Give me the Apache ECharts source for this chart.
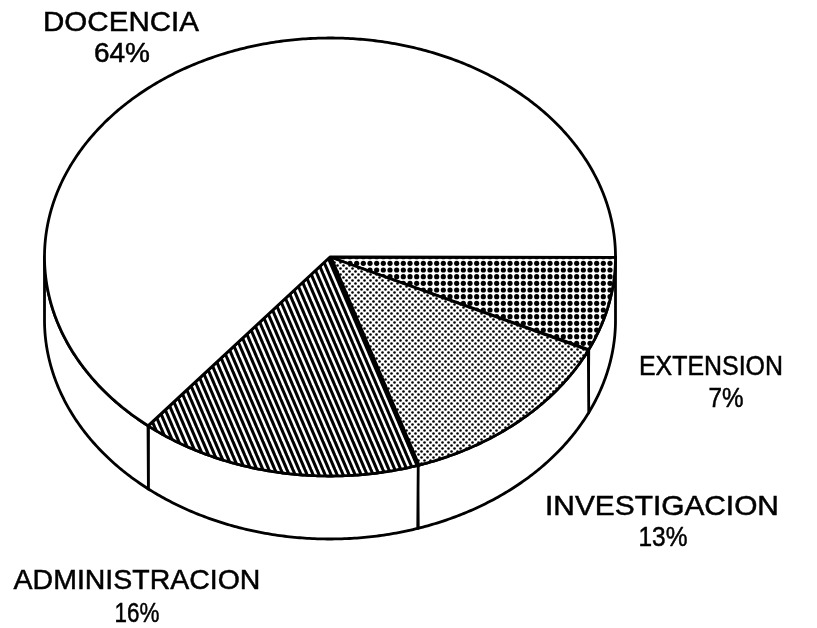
<!DOCTYPE html>
<html>
<head>
<meta charset="utf-8">
<title>Distribucion</title>
<style>
  html, body { margin: 0; padding: 0; background: #fff; }
  #chart { width: 817px; height: 628px; }
</style>
<script src="https://cdn.jsdelivr.net/npm/echarts@6/dist/echarts.min.js"></script>
</head>
<body>
<div id="chart"></div>
<script>
// slices in drawing order, clockwise from 3 o'clock
const sliceNames = ['EXTENSION', 'INVESTIGACION', 'ADMINISTRACION', 'DOCENCIA']
const sliceValues = [7, 13, 16, 64]

// disc geometry
const CX = 330
const CY = 257
const RX = 285.5
const RY = 219
const DEPTH = 63

// label centres: [name x, name y, pct x, pct y, name stretch, pct stretch]
const labelLayout = [
  [711, 367, 726, 399, 0.89, 0.865],
  [662, 507, 663, 538, 1.066, 0.875],
  [137, 581, 137, 614, 1.017, 0.8],
  [121, 23, 122, 54, 1.055, 1]
]
const LABEL_FONT = '28px "Liberation Sans", Arial, sans-serif'

function makeTile(size, draw) {
  const c = document.createElement('canvas')
  c.width = size[0]
  c.height = size[1]
  const ctx = c.getContext('2d')
  ctx.fillStyle = '#fff'
  ctx.fillRect(0, 0, size[0], size[1])
  ctx.fillStyle = '#000'
  draw(ctx)
  return { image: c, repeat: 'repeat' }
}

function dot(ctx, x, y, r) {
  ctx.beginPath()
  ctx.arc(x, y, r, 0, Math.PI * 2)
  ctx.fill()
}

const coarseDots = makeTile([20, 20], ctx => {
  for (let i = 0; i < 3; i++) {
    for (let j = 0; j < 3; j++) dot(ctx, 3.33 + i * 6.67, 3.33 + j * 6.67, 2.6)
  }
})

const fineDots = makeTile([6, 6], ctx => {
  dot(ctx, 1.5, 1.5, 1.3)
  dot(ctx, 4.5, 4.5, 1.3)
})

const stripes = makeTile([6, 14], ctx => {
  for (let k = -6; k <= 6; k += 6) {
    ctx.beginPath()
    ctx.moveTo(k, 0)
    ctx.lineTo(k + 3.3, 0)
    ctx.lineTo(k + 9.3, 14)
    ctx.lineTo(k + 6, 14)
    ctx.closePath()
    ctx.fill()
  }
})

const sliceFills = [coarseDots, fineDots, stripes, '#fff']

function rimPoint(deg, dy) {
  const t = deg * Math.PI / 180
  return [CX + RX * Math.cos(t), CY + RY * Math.sin(t) + dy]
}

function arcPoints(from, to, dy) {
  const pts = []
  const step = from < to ? 0.5 : -0.5
  const n = Math.round((to - from) / step)
  for (let i = 0; i <= n; i++) pts.push(rimPoint(from + i * step, dy))
  return pts
}

const total = sliceValues.reduce((a, b) => a + b, 0)
let running = 0
const rows = sliceValues.map(v => {
  const row = [v, running]
  running += v
  return row
})

function labelText(text, x, y, stretch) {
  return {
    type: 'text',
    x,
    y,
    scaleX: stretch,
    style: {
      text,
      align: 'center',
      verticalAlign: 'middle',
      font: LABEL_FONT,
      fill: '#000',
      stroke: '#000',
      lineWidth: 0.5
    }
  }
}

function renderSlice(params, api) {
  const i = params.dataIndex
  const start = api.value(1) / total * 360
  const end = start + api.value(0) / total * 360
  const layout = labelLayout[i]
  const children = []

  // front wall, only the part of the slice that faces the viewer
  const wallFrom = Math.min(start, 180)
  const wallTo = Math.min(end, 180)
  if (wallTo > wallFrom) {
    children.push({
      type: 'polygon',
      shape: { points: arcPoints(wallFrom, wallTo, 0).concat(arcPoints(wallTo, wallFrom, DEPTH)) },
      style: { fill: '#fff', stroke: '#000', lineWidth: 2.8, lineJoin: 'round' }
    })
  }

  children.push({
    type: 'polygon',
    shape: { points: [[CX, CY]].concat(arcPoints(start, end, 0)) },
    style: { fill: sliceFills[i], stroke: '#000', lineWidth: 2.8, lineJoin: 'round' }
  })

  // the administracion / investigacion edge is heavier in the original
  if (i === 2) {
    const p = rimPoint(start, 0)
    children.push({
      type: 'line',
      shape: { x1: CX, y1: CY, x2: p[0], y2: p[1] },
      style: { stroke: '#000', lineWidth: 4.5, lineCap: 'round' }
    })
  }

  children.push(
    labelText(sliceNames[i], layout[0], layout[1], layout[4]),
    labelText(api.value(0) + '%', layout[2], layout[3], layout[5])
  )

  return { type: 'group', children }
}

const chart = echarts.init(document.getElementById('chart'), null, { renderer: 'canvas' })

chart.setOption({
  backgroundColor: '#fff',
  animation: false,
  series: [{
    type: 'custom',
    coordinateSystem: 'none',
    silent: true,
    renderItem: renderSlice,
    data: rows
  }]
})
</script>
</body>
</html>
